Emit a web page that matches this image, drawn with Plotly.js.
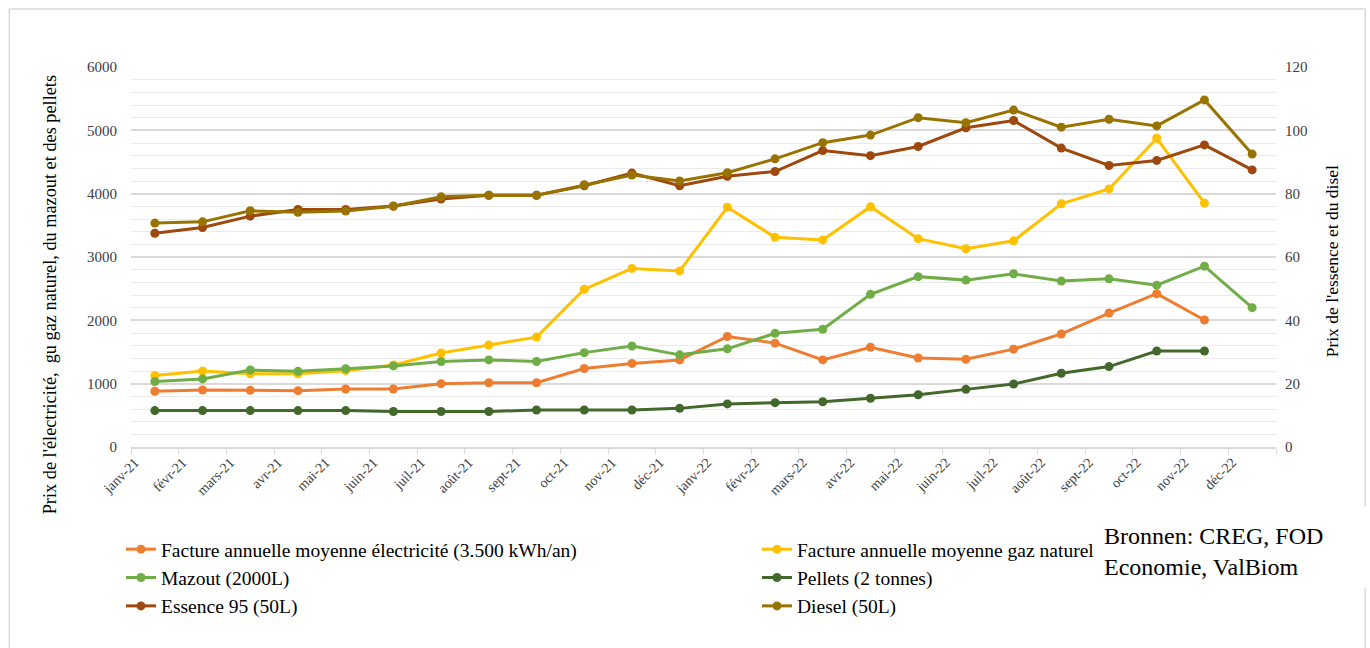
<!DOCTYPE html>
<html>
<head>
<meta charset="utf-8">
<script src="https://cdn.plot.ly/plotly-3.0.1.min.js"></script>
<style>
  html, body { margin: 0; padding: 0; background: #ffffff; }
  #chart { width: 1370px; height: 648px; }
</style>
</head>
<body>
<div id="chart"></div>
<script>
// Month labels (Jan 2021 - Dec 2022)
const months = ['janv-21','févr-21','mars-21','avr-21','mai-21','juin-21','juil-21','août-21','sept-21','oct-21','nov-21','déc-21',
                'janv-22','févr-22','mars-22','avr-22','mai-22','juin-22','juil-22','août-22','sept-22','oct-22','nov-22','déc-22'];

// Left axis series (EUR)
const electricite = [880, 900, 895, 890, 915, 915, 1000, 1015, 1015, 1240, 1320, 1375,
                     1745, 1640, 1375, 1575, 1405, 1385, 1545, 1785, 2115, 2420, 2005, null];
const gazNaturel  = [1130, 1200, 1155, 1155, 1205, 1295, 1485, 1610, 1735, 2490, 2820, 2780,
                     3785, 3310, 3270, 3795, 3290, 3130, 3255, 3840, 4075, 4875, 3850, null];
const mazout      = [1035, 1075, 1215, 1195, 1235, 1280, 1350, 1375, 1350, 1490, 1595, 1455,
                     1550, 1795, 1860, 2410, 2690, 2635, 2735, 2620, 2655, 2555, 2855, 2200];
const pellets     = [575, 575, 575, 575, 575, 560, 560, 560, 585, 585, 585, 610,
                     680, 700, 715, 770, 825, 910, 995, 1165, 1270, 1515, 1515, null];

// Right axis series (EUR)
const essence95   = [67.5, 69.3, 72.9, 75.0, 75.0, 76.1, 78.3, 79.5, 79.5, 82.5, 86.5, 82.5,
                     85.5, 87.0, 93.6, 92.0, 94.9, 100.8, 103.1, 94.4, 88.9, 90.5, 95.4, 87.5];
const diesel      = [70.7, 71.1, 74.6, 74.1, 74.5, 76.0, 79.0, 79.5, 79.5, 82.8, 85.9, 84.0,
                     86.6, 91.0, 96.1, 98.5, 104.0, 102.4, 106.4, 101.0, 103.5, 101.4, 109.6, 92.5];

const names = ['Facture annuelle moyenne électricité (3.500 kWh/an)', 'Facture annuelle moyenne gaz naturel',
               'Mazout (2000L)', 'Pellets (2 tonnes)', 'Essence 95 (50L)', 'Diesel (50L)'];
const colors = ['#ED7D31', '#FFC000', '#70AD47', '#43682B', '#9E480E', '#997300'];
const series = [electricite, gazNaturel, mazout, pellets, essence95, diesel];
const axes = ['y', 'y', 'y', 'y', 'y2', 'y2'];
// legend columns: left column / right column
const legendCol = ['legend', 'legend2', 'legend', 'legend2', 'legend', 'legend2'];

const traces = series.map((vals, i) => ({
  type: 'scatter',
  mode: 'lines+markers',
  name: names[i],
  x: months,
  y: vals,
  yaxis: axes[i],
  legend: legendCol[i],
  legendgroup: 'g' + i,
  connectgaps: false,
  line: { color: colors[i], width: 3 },
  marker: { color: colors[i], size: 9 },
  hoverinfo: 'x+y+name'
}));

// plot area in pixels, used to place paper-referenced items
const L = 130.7, R = 1275.7, T = 67, B = 447;
const px = v => (v - L) / (R - L);
const py = v => (B - v) / (B - T);

const serif = '"Liberation Serif", serif';

const legendBase = {
  orientation: 'v',
  xref: 'container',
  yref: 'container',
  y: 1 - 530 / 648,
  xanchor: 'left',
  yanchor: 'top',
  font: { family: serif, size: 19.5, color: '#000000' },
  bgcolor: 'rgba(0,0,0,0)',
  itemwidth: 30,
  tracegroupgap: 0
};

const layout = {
  width: 1370,
  height: 648,
  paper_bgcolor: '#ffffff',
  plot_bgcolor: '#ffffff',
  margin: { l: L, r: 1370 - R, t: T, b: 648 - B, autoexpand: false },
  font: { family: serif, color: '#404040' },
  showlegend: true,
  xaxis: {
    type: 'category',
    range: [-0.5, 23.5],
    showgrid: false,
    zeroline: false,
    showline: true,
    linecolor: '#d9d9d9',
    linewidth: 1.5,
    ticks: 'outside',
    tickson: 'boundaries',
    ticklen: 5,
    tickcolor: '#d9d9d9',
    tickwidth: 1,
    tickangle: -45,
    ticklabelshift: -20,
    tickfont: { family: serif, size: 14, color: '#404040' }
  },
  yaxis: {
    range: [0, 6000],
    dtick: 1000,
    showgrid: true,
    gridcolor: '#d9d9d9',
    gridwidth: 1.5,
    zeroline: false,
    showline: false,
    ticks: '',
    ticklabelstandoff: 13,
    tickfont: { family: serif, size: 15, color: '#404040' },
    minor: { dtick: 200, showgrid: true, gridcolor: '#ebebeb', gridwidth: 1, ticks: '' }
  },
  yaxis2: {
    overlaying: 'y',
    side: 'right',
    range: [0, 120],
    dtick: 20,
    showgrid: false,
    zeroline: false,
    showline: false,
    ticks: '',
    ticklabelstandoff: 8,
    tickfont: { family: serif, size: 15, color: '#404040' }
  },
  legend: Object.assign({}, legendBase, { x: 121 / 1370 }),
  legend2: Object.assign({}, legendBase, { x: 757 / 1370 }),
  shapes: [
    // outer frame
    { type: 'rect', xref: 'paper', yref: 'paper', x0: px(9), x1: px(1365), y0: py(700), y1: py(9),
      line: { color: '#d9d9d9', width: 1.5 }, fillcolor: 'rgba(0,0,0,0)', layer: 'above' },
    // white text box for the source note
    { type: 'rect', xref: 'paper', yref: 'paper', x0: px(1096), x1: px(1380), y0: py(588), y1: py(506),
      line: { width: 0 }, fillcolor: '#ffffff', layer: 'above' }
  ],
  annotations: [
    { text: "Prix de l'électricité,  gu gaz naturel, du mazout et des pellets",
      xref: 'paper', yref: 'paper', x: px(50), y: py(295), xanchor: 'center', yanchor: 'middle',
      textangle: -90, showarrow: false, font: { family: serif, size: 18.3, color: '#000000' } },
    { text: "Prix de l'essence et du disel",
      xref: 'paper', yref: 'paper', x: px(1332), y: py(261), xanchor: 'center', yanchor: 'middle',
      textangle: -90, showarrow: false, font: { family: serif, size: 17.5, color: '#000000' } },
    { text: 'Bronnen: CREG, FOD<br>Economie, ValBiom',
      xref: 'paper', yref: 'paper', x: px(1102), y: py(521), xanchor: 'left', yanchor: 'top',
      align: 'left', showarrow: false, font: { family: serif, size: 24, color: '#000000' } }
  ]
};

Plotly.newPlot('chart', traces, layout, { displayModeBar: false, responsive: false });
</script>
</body>
</html>
